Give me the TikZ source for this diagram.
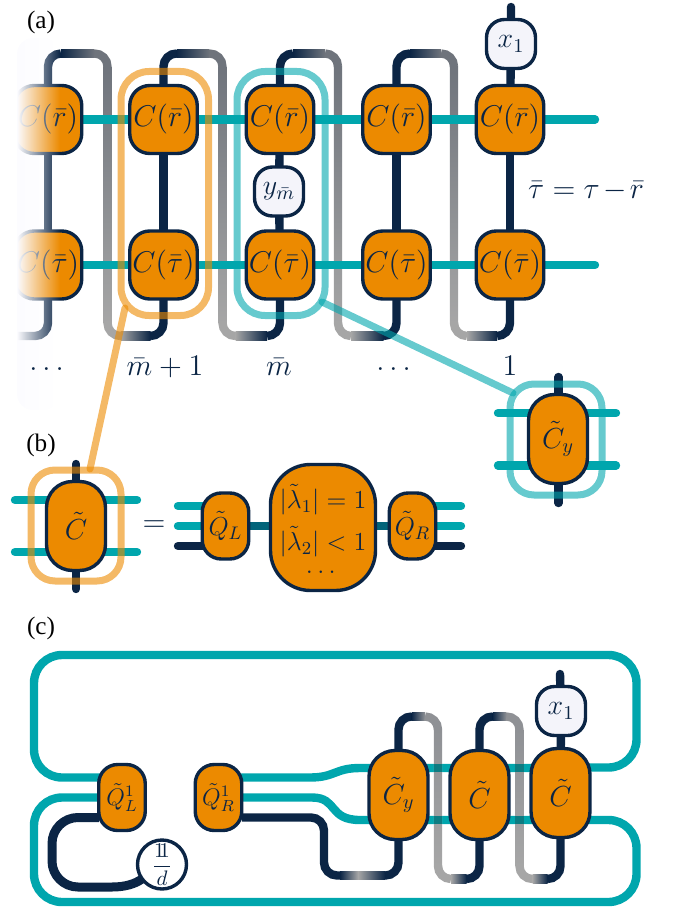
\documentclass[tikz,border=0pt]{standalone}
\usepackage{fix-cm}
\usepackage{amsmath, amssymb}
\usepackage{fontspec}
\newfontfamily\labelfont{Liberation Serif}
\usepackage{xcolor}
\usetikzlibrary{backgrounds, fadings}

\definecolor{navyc}{HTML}{0B2545}
\definecolor{tealc}{HTML}{00A6AD}
\definecolor{darkteal}{HTML}{02647A}
\definecolor{crosst}{HTML}{0C7C82}
\definecolor{orangec}{HTML}{EC8A00}
\definecolor{tilec}{HTML}{F4F4FA}
\definecolor{foldgray}{HTML}{6F747C}
\definecolor{foldlight}{HTML}{A6A6A6}
\definecolor{palec}{HTML}{FCFCFF}

\tikzfading[name=fadecol, left color=transparent!0, right color=transparent!100]

% straight pieces of a wire whose colour runs from one end to the other
\newcommand{\fadeh}[5]{\shade[left color=#4, right color=#5] (#1,#3-4.2) rectangle (#2,#3+4.2);}
\newcommand{\fadev}[5]{\shade[top color=#4, bottom color=#5] (#1-4.2,#2) rectangle (#1+4.2,#3);}
% from, to, x from, x fold, x to, y top, y bottom
\newcommand{\foldwire}[7]{%
  \draw[navywire, rounded corners=6.5pt, line cap=butt] (#1.north) -- (#3,#6) -- (#3+13,#6);
  \fadeh{#3+13}{#4-13}{#6}{navyc}{foldgray}
  \draw[navywire, draw=foldgray, rounded corners=6.5pt, line cap=butt] (#4-13,#6) -- (#4,#6) -- (#4,#6+13);
  \fadev{#4}{#6+13}{#7-13}{foldgray}{foldlight}
  \draw[navywire, draw=foldlight, rounded corners=6.5pt, line cap=butt] (#4,#7-13) -- (#4,#7) -- (#4+13,#7);
  \fadeh{#4+13}{#5-13}{#7}{foldlight}{navyc}
  \draw[navywire, rounded corners=6.5pt, line cap=butt] (#5-13,#7) -- (#5,#7) -- (#2.south);
}

\begin{document}
\begin{tikzpicture}[x=0.5pt, y=-0.5pt,
    every node/.style={text=navyc, inner sep=0pt, outer sep=0pt},
    big/.style={font=\fontsize{15}{18}\selectfont},
    mid/.style={font=\fontsize{13}{16}\selectfont},
    small/.style={font=\fontsize{12}{14}\selectfont},
    navywire/.style={draw=navyc, line width=4.2pt, line cap=round},
    tealwire/.style={draw=tealc, line width=4.2pt, line cap=round},
    linkwire/.style={draw=darkteal, line width=4.2pt},
    orangebox/.style={draw=navyc, fill=orangec, line width=1.7pt},
    cbox/.style={orangebox, big, minimum width=33.75pt, minimum height=34pt, rounded corners=10pt},
    ctilde/.style={orangebox, font=\fontsize{14.5}{17}\selectfont, minimum width=29.5pt, minimum height=44.5pt, rounded corners=13pt},
    qbox/.style={orangebox, mid, minimum width=23.25pt, minimum height=33pt, rounded corners=9.5pt},
    tile/.style={draw=navyc, fill=tilec, line width=1.7pt, font=\fontsize{14}{16}\selectfont,
      minimum width=24.5pt, minimum height=24.5pt, rounded corners=9pt},
    orangeloop/.style={draw=orangec, opacity=0.6, line width=3.5pt, line cap=round},
    tealloop/.style={draw=tealc, opacity=0.6, line width=3.5pt, line cap=round},
    panel/.style={font=\labelfont\fontsize{12.6}{15}\selectfont, text=black}]
  \useasboundingbox (0,0) rectangle (675,909);

  % Panel labels
  \node[panel] (panelA) at (41,22) {(a)};
  \node[panel] (panelB) at (41,445) {(b)};
  \node[panel] (panelC) at (41,628) {(c)};

  % (a) Tensor columns
  \foreach \name/\xpos in {0/48, 1/163.5, 2/280, 3/396.5, 4/510} {
    \node[cbox] (rbar\name) at (\xpos,119.5) {$C(\bar r)$};
    \node[cbox] (taubar\name) at (\xpos,265) {$C(\bar\tau)$};
  }
  \node[tile] (ymbar) at (279,191.5) {$y_{\bar m}$};
  \node[tile] (xa) at (511,44) {$x_1$};
  \coordinate (xatop) at (511,7);
  \coordinate (rbarend) at (595,119.5);
  \coordinate (taubarend) at (595,265);

  \node[big] (mplus) at (165,367) {$\bar m + 1$};
  \node[big] (mbar) at (279,367) {$\bar m$};
  \node[big] (dotsR) at (396,369.5) {$\dots$};
  \node[big] (one) at (510,366) {$1$};
  \node[big] (taueq) at (586,191) {$\bar\tau = \tau\mskip2mu{-}\mskip2mu\bar r$};

  % (b) Decomposition
  \node[ctilde] (cb) at (76,526) {$\tilde C$};
  \node[big] (eqb) at (154,526) {$=$};
  \node[qbox] (qlb) at (225.5,526) {$\tilde Q_L$};
  \node[orangebox, mid, minimum width=52.5pt, minimum height=63pt, rounded corners=20pt] (lam) at (323,527.5) {};
  \node[mid] (lamA) at (323,500) {$|\tilde\lambda_1| = 1$};
  \node[mid] (lamB) at (323,542) {$|\tilde\lambda_2| < 1$};
  \node[mid] (lamC) at (323,572) {$\dots$};
  \node[qbox] (qrb) at (412.5,526) {$\tilde Q_R$};
  \node[ctilde] (cy) at (558,439) {$\tilde C_y$};

  % (c) Closed network
  \node[qbox, small] (ql) at (122,797.5) {$\tilde Q^1_L$};
  \node[qbox, small] (qr) at (218.5,797.5) {$\tilde Q^1_R$};
  \node[circle, draw=navyc, fill=white, line width=1.7pt, minimum size=24.5pt, font=\fontsize{10.5}{12}\selectfont] (idd) at (162,864.5) {$\dfrac{\mathrm{1\kern-.25em 1}}{d}$};
  \node[ctilde] (cya) at (398.5,795) {$\tilde C_y$};
  \node[ctilde] (cyb) at (479.5,795) {$\tilde C$};
  \node[ctilde] (cyc) at (560.5,793) {$\tilde C$};
  \node[tile] (xc) at (561,711) {$x_1$};
  \coordinate (xctop) at (560,674);

  % Wires go behind the tensors
  \begin{scope}[on background layer]
    % (a) Folded wires
    \foldwire{rbar0}{taubar1}{48}{107.5}{163.5}{53.5}{336}
    \foldwire{rbar1}{taubar2}{163.5}{222.5}{280}{53.5}{336}
    \foldwire{rbar2}{taubar3}{280}{338}{396.5}{53.5}{336}
    \foldwire{rbar3}{taubar4}{396.5}{454}{510}{53.5}{336}
    \draw[navywire, rounded corners=6.5pt, line cap=butt] (taubar0.south) -- (48,336) -- (17,336);

    % (a) Vertical wires
    \foreach \name in {0, 1, 3, 4} {
      \draw[navywire] (rbar\name) -- (taubar\name);
    }
    \draw[navywire] (rbar2) -- (ymbar) -- (taubar2);
    \draw[navywire] (xatop) -- (xa) -- (rbar4);

    % (a) Rows
    \draw[tealwire] (rbar0) -- (rbar1) -- (rbar2) -- (rbar3) -- (rbar4) -- (rbarend);
    \draw[tealwire] (taubar0) -- (taubar1) -- (taubar2) -- (taubar3) -- (taubar4) -- (taubarend);

    % (b) Legs
    \draw[tealwire] (15,500) -- (137,500);
    \draw[tealwire] (15,552) -- (137,552);
    \draw[navywire] (76,464) -- (76,589);
    \draw[tealwire] (178,506) -- ([yshift=10pt]qlb.west);
    \draw[tealwire] (178,526) -- (qlb.west);
    \draw[navywire] (178,546) -- ([yshift=-10pt]qlb.west);
    \draw[linkwire] (qlb) -- (qlb -| lam);
    \draw[linkwire] (qrb -| lam) -- (qrb);
    \draw[tealwire] ([yshift=10pt]qrb.east) -- (461,506);
    \draw[tealwire] (qrb.east) -- (461,526);
    \draw[navywire] ([yshift=-10pt]qrb.east) -- (461,546);

    % Zoomed copy of the last column
    \draw[tealwire] (498,413) -- (616,413);
    \draw[tealwire] (498,465.5) -- (616,465.5);
    \draw[navywire] (558.5,377) -- (558.5,503);

    % (c) Outer teal loops
    \draw[tealwire, rounded corners=14pt] (122,777.5) -- (34,777.5) -- (34,655) -- (636.5,655) -- (636.5,767.5) -- (560,767.5);
    \draw[tealwire, rounded corners=14pt] (ql.center) -- (34,797.5) -- (34,902) -- (636.5,902) -- (636.5,820) -- (560,820);

    % (c) Rows through the tensors
    \draw[tealwire] ([yshift=10pt]qr.east) -- (310,777.5) .. controls (335,777.5) and (335,768) .. (360,768) -- (540,768);
    \draw[tealwire] (qr.east) -- (312,797.5) .. controls (338,797.5) and (328,820) .. (360,820) -- (540,820);

    % Folded wires over the rows
    \definecolor{foldgray}{HTML}{8F9195}
    \foldwire{cya}{cyb}{398.5}{438}{479.5}{716.5}{879}
    \foldwire{cyb}{cyc}{479.5}{519.5}{560.5}{716.5}{879}
    \fill[crosst] (433.8,763.8) rectangle (442.2,772.2);
    \fill[crosst] (433.8,815.8) rectangle (442.2,824.2);
    \fill[crosst] (515.3,763.8) rectangle (523.7,772.2);
    \fill[crosst] (515.3,815.8) rectangle (523.7,824.2);

    % (c) Remaining navy wires
    \draw[navywire] (xctop) -- (xc) -- (cyc);
    \draw[navywire, rounded corners=6.5pt, line cap=butt] ([yshift=-10pt]qr.east) -- (324,817.5) -- (324,875.5) -- (340,875.5);
    \fadeh{340}{358}{875.5}{navyc}{foldlight}
    \fadeh{358}{385}{875.5}{foldlight}{navyc}
    \draw[navywire, rounded corners=6.5pt, line cap=butt] (385,875.5) -- (398.5,875.5) -- (cya.south);
    \draw[navywire, line width=4.5pt, rounded corners=13pt, line cap=butt] ([yshift=-10pt]ql.west) -- (52,817.5) -- (52,887) -- (112,887);
    \draw[navywire, line width=4.5pt, line cap=butt] (112,887) .. controls (125,887) and (135,884) .. (idd);
  \end{scope}

  % Highlight loops
  \node[orangeloop, rounded corners=14pt, minimum width=43.75pt, minimum height=122pt] (loopA) at (164.75,193.5) {};
  \node[tealloop, rounded corners=14pt, minimum width=44pt, minimum height=122pt] (loopB) at (281,193.5) {};
  \node[orangeloop, rounded corners=12pt, minimum width=45pt, minimum height=55.5pt] (loopC) at (76,525.5) {};
  \node[tealloop, rounded corners=12pt, minimum width=46pt, minimum height=55.5pt] (loopD) at (556,439.5) {};
  \coordinate (pinA) at (125,308);
  \coordinate (pinB) at (90,469);
  \coordinate (pinC) at (322,302);
  \coordinate (pinD) at (513,393);
  \draw[orangeloop] (pinA) -- (pinB);
  \draw[tealloop] (pinC) -- (pinD);

  % Fade of the first column
  \fill[white] (0,30) rectangle (17,420);
  \fill[palec, path fading=fadecol, rounded corners=8pt] (17,38) rectangle (60,410);
  \node[big] (dotsL) at (49,369.5) {$\dots$};
\end{tikzpicture}
\end{document}
